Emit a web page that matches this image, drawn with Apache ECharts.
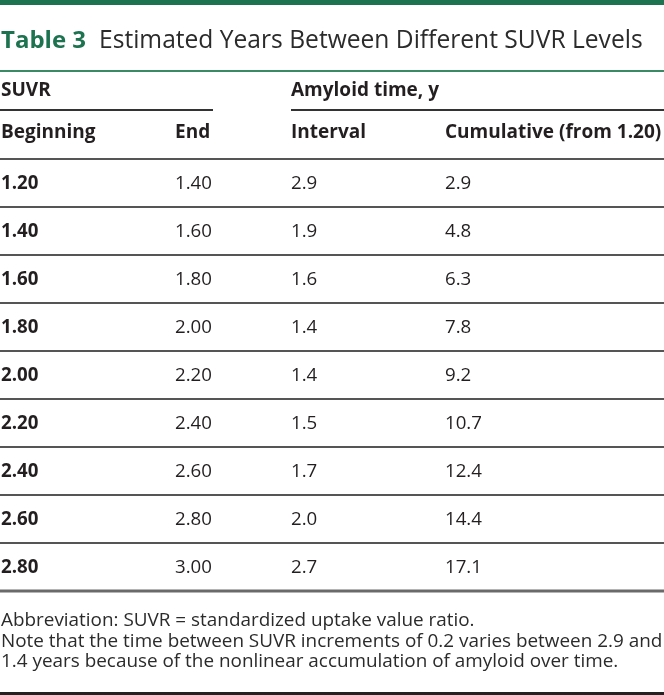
<!DOCTYPE html>
<html><head><meta charset="utf-8">
<script src="https://cdn.jsdelivr.net/npm/echarts@6/dist/echarts.min.js"></script>
<style>html,body{margin:0;padding:0;background:#fff}#c{width:664px;height:695px}</style>
</head><body><div id="c"></div>
<script>
// ---- data ----
const titleLabel = 'Table 3';
const titleText = 'Estimated Years Between Different SUVR Levels';
const groupHeaders = ['SUVR', 'Amyloid time, y'];
const columnHeaders = ['Beginning', 'End', 'Interval', 'Cumulative (from 1.20)'];
const beginning = ['1.20', '1.40', '1.60', '1.80', '2.00', '2.20', '2.40', '2.60', '2.80'];
const endLevel = ['1.40', '1.60', '1.80', '2.00', '2.20', '2.40', '2.60', '2.80', '3.00'];
const interval = ['2.9', '1.9', '1.6', '1.4', '1.4', '1.5', '1.7', '2.0', '2.7'];
const cumulative = ['2.9', '4.8', '6.3', '7.8', '9.2', '10.7', '12.4', '14.4', '17.1'];
const footnotes = [
  'Abbreviation: SUVR = standardized uptake value ratio.',
  'Note that the time between SUVR increments of 0.2 varies between 2.9 and',
  '1.4 years because of the nonlinear accumulation of amyloid over time.'
];

// ---- layout ----
const W = 664;
const FONT = '"Open Sans", "Noto Sans", sans-serif';
const colX = [1, 175, 291, 445];
const headerLineY = 159;
const rowH = 48;
const textColor = '#231f20';
const green = '#1d7350';
const lineGray = '#555555';

const g = [];
function text(x, y, s, size, weight, color) {
  g.push({
    type: 'text', x: x, y: y,
    style: { text: s, font: (weight || 'normal') + ' ' + size + 'px ' + FONT,
             fill: color || textColor, textVerticalAlign: 'middle', textAlign: 'left' }
  });
}
function hline(x1, x2, y, w, color) {
  g.push({ type: 'rect', shape: { x: x1, y: y - w / 2, width: x2 - x1, height: w },
           style: { fill: color } });
}

// top bar
hline(0, W, 2.5, 5, green);
// title
text(1, 41, titleLabel, 24, 'bold', green);
text(99, 41, titleText, 24.6, 'normal', '#2b2b2b');
hline(0, W, 71, 2, '#3b8a66');
// group headers
text(colX[0], 91, groupHeaders[0], 19, 'bold');
text(colX[2], 91, groupHeaders[1], 19, 'bold');
hline(0, 213, 110, 2, '#333');
hline(291, W, 110, 2, '#333');
// column headers
columnHeaders.forEach((h, i) => text(colX[i], 133, h, 19, 'bold'));
hline(0, W, headerLineY, 2, lineGray);
// data rows
const cols = [beginning, endLevel, interval, cumulative];
beginning.forEach((_, r) => {
  const cy = headerLineY + rowH * r + rowH / 2 + 0.5;
  cols.forEach((col, c) => text(colX[c], cy, col[r], 18.7, c === 0 ? 'bold' : 'normal'));
  const ly = headerLineY + rowH * (r + 1);
  const last = r === beginning.length - 1;
  hline(0, W, ly, last ? 3 : 2, last ? '#6a6a6a' : lineGray);
});
// footnotes
footnotes.forEach((f, i) => text(1, 621 + i * 20.5, f, 18.9, 'normal', '#2b2b2b'));
hline(0, W, 693.5, 3, '#222');

const chart = echarts.init(document.getElementById('c'), null, { renderer: 'canvas' });
chart.setOption({ animation: false, backgroundColor: '#fff', graphic: { elements: g } });
</script></body></html>
